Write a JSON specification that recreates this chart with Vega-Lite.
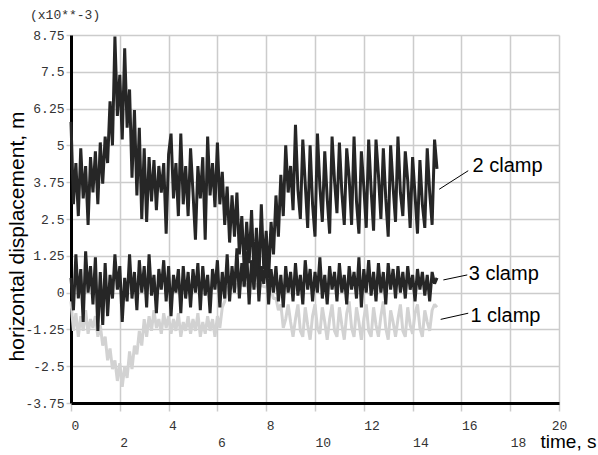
{
  "$schema": "https://vega.github.io/schema/vega-lite/v6.json",
  "width": 488,
  "height": 368,
  "autosize": {"type": "none"},
  "padding": {"left": 71, "top": 35, "right": 39, "bottom": 52},
  "background": "white",
  "config": {"view": {"stroke": null}},
  "title": {"text": "(x10**-3)", "anchor": "start", "frame": "group", "dx": -41, "dy": 11, "offset": 8, "font": "Liberation Mono", "fontSize": 13, "fontWeight": "normal", "color": "#333333", "baseline": "alphabetic"},
  "datasets": {
    "series": [
      {"t":0.0,"a":-0.3,"b":5.8,"c":0.5},{"t":0.1,"a":-1.3,"b":3.0,"c":-0.6},{"t":0.2,"a":-0.7,"b":4.4,"c":1.3},{"t":0.3,"a":-1.5,"b":2.6,"c":-0.2},{"t":0.4,"a":-0.8,"b":4.9,"c":0.8},
      {"t":0.5,"a":-1.3,"b":3.2,"c":-1.0},{"t":0.6,"a":-0.6,"b":4.3,"c":1.4},{"t":0.7,"a":-1.4,"b":2.3,"c":0.0},{"t":0.8,"a":-0.9,"b":4.6,"c":0.9},{"t":0.9,"a":-1.2,"b":3.4,"c":-0.4},
      {"t":1.0,"a":-0.8,"b":4.8,"c":1.2},{"t":1.1,"a":-1.5,"b":3.0,"c":-1.3},{"t":1.2,"a":-1.1,"b":5.1,"c":0.7},{"t":1.3,"a":-1.8,"b":3.7,"c":-1.1},{"t":1.4,"a":-1.5,"b":5.3,"c":1.0},
      {"t":1.5,"a":-2.3,"b":4.4,"c":-0.8},{"t":1.6,"a":-1.9,"b":6.5,"c":0.6},{"t":1.7,"a":-2.6,"b":5.0,"c":-0.2},{"t":1.8,"a":-2.3,"b":8.7,"c":1.3},{"t":1.9,"a":-3.0,"b":6.0,"c":0.1},
      {"t":2.0,"a":-2.4,"b":7.4,"c":0.9},{"t":2.1,"a":-3.2,"b":5.2,"c":-1.0},{"t":2.2,"a":-2.5,"b":8.3,"c":0.5},{"t":2.3,"a":-2.9,"b":5.6,"c":-0.3},{"t":2.4,"a":-2.0,"b":6.9,"c":1.3},
      {"t":2.5,"a":-2.6,"b":3.9,"c":-0.2},{"t":2.6,"a":-1.8,"b":6.2,"c":0.7},{"t":2.7,"a":-2.1,"b":3.3,"c":-0.6},{"t":2.8,"a":-1.3,"b":5.6,"c":1.1},{"t":2.9,"a":-1.8,"b":2.5,"c":0.0},
      {"t":3.0,"a":-0.9,"b":4.9,"c":0.9},{"t":3.1,"a":-1.5,"b":2.4,"c":-0.5},{"t":3.2,"a":-0.8,"b":4.6,"c":1.3},{"t":3.3,"a":-1.3,"b":3.1,"c":-0.1},{"t":3.4,"a":-0.6,"b":4.5,"c":0.6},
      {"t":3.5,"a":-1.2,"b":2.8,"c":-0.7},{"t":3.6,"a":-0.9,"b":4.3,"c":0.8},{"t":3.7,"a":-1.4,"b":3.4,"c":0.1},{"t":3.8,"a":-0.7,"b":4.4,"c":1.1},{"t":3.9,"a":-1.2,"b":2.0,"c":-0.3},
      {"t":4.0,"a":-0.8,"b":4.7,"c":0.9},{"t":4.1,"a":-1.4,"b":5.4,"c":-0.8},{"t":4.2,"a":-0.9,"b":3.2,"c":0.6},{"t":4.3,"a":-1.3,"b":4.4,"c":0.0},{"t":4.4,"a":-0.7,"b":2.6,"c":0.8},
      {"t":4.5,"a":-1.5,"b":5.4,"c":-0.7},{"t":4.6,"a":-1.0,"b":3.0,"c":0.9},{"t":4.7,"a":-1.3,"b":4.3,"c":-0.2},{"t":4.8,"a":-0.8,"b":2.6,"c":0.7},{"t":4.9,"a":-1.4,"b":4.9,"c":-0.5},
      {"t":5.0,"a":-0.9,"b":3.4,"c":0.8},{"t":5.1,"a":-1.3,"b":1.8,"c":0.0},{"t":5.2,"a":-0.7,"b":4.3,"c":1.0},{"t":5.3,"a":-1.5,"b":3.2,"c":-0.6},{"t":5.4,"a":-1.0,"b":4.6,"c":0.9},
      {"t":5.5,"a":-1.4,"b":1.8,"c":-0.1},{"t":5.6,"a":-0.8,"b":5.3,"c":0.6},{"t":5.7,"a":-1.3,"b":3.3,"c":-0.7},{"t":5.8,"a":-0.9,"b":4.4,"c":0.8},{"t":5.9,"a":-1.5,"b":2.9,"c":0.1},
      {"t":6.0,"a":-0.8,"b":5.1,"c":1.1},{"t":6.1,"a":-1.2,"b":3.0,"c":-0.5},{"t":6.2,"a":-0.5,"b":4.1,"c":0.7},{"t":6.3,"a":-0.3,"b":2.3,"c":-0.2},{"t":6.4,"a":0.2,"b":3.6,"c":1.3},
      {"t":6.5,"a":0.1,"b":1.7,"c":-0.3},{"t":6.6,"a":0.3,"b":3.3,"c":0.9},{"t":6.7,"a":0.1,"b":1.9,"c":0.0},{"t":6.8,"a":0.3,"b":3.4,"c":1.5},{"t":6.9,"a":0.2,"b":1.3,"c":-0.2},
      {"t":7.0,"a":0.3,"b":2.6,"c":1.0},{"t":7.1,"a":0.2,"b":0.8,"c":0.2},{"t":7.2,"a":0.3,"b":2.4,"c":1.4},{"t":7.3,"a":0.1,"b":1.0,"c":-0.4},{"t":7.4,"a":0.3,"b":2.8,"c":1.1},
      {"t":7.5,"a":0.2,"b":0.6,"c":0.1},{"t":7.6,"a":0.3,"b":2.2,"c":1.6},{"t":7.7,"a":0.1,"b":0.4,"c":-0.3},{"t":7.8,"a":0.3,"b":3.0,"c":0.9},{"t":7.9,"a":0.2,"b":0.8,"c":0.3},
      {"t":8.0,"a":0.2,"b":2.1,"c":1.3},{"t":8.1,"a":0.1,"b":0.5,"c":-0.4},{"t":8.2,"a":0.1,"b":2.4,"c":0.8},{"t":8.3,"a":-0.2,"b":1.3,"c":0.0},{"t":8.4,"a":-0.2,"b":3.3,"c":0.9},
      {"t":8.5,"a":-0.6,"b":1.9,"c":-0.3},{"t":8.6,"a":-0.4,"b":4.0,"c":0.6},{"t":8.7,"a":-1.2,"b":2.6,"c":-0.5},{"t":8.8,"a":-0.9,"b":5.0,"c":0.9},{"t":8.9,"a":-0.4,"b":3.4,"c":0.0},
      {"t":9.0,"a":-1.0,"b":4.3,"c":0.7},{"t":9.1,"a":-1.5,"b":2.8,"c":-0.3},{"t":9.2,"a":-0.9,"b":5.7,"c":1.0},{"t":9.3,"a":-0.4,"b":3.5,"c":-0.1},{"t":9.4,"a":-1.3,"b":2.5,"c":0.6},
      {"t":9.5,"a":-1.5,"b":5.2,"c":-0.4},{"t":9.6,"a":-0.5,"b":3.7,"c":1.1},{"t":9.7,"a":-1.1,"b":2.2,"c":0.1},{"t":9.8,"a":-1.6,"b":5.0,"c":0.8},{"t":9.9,"a":-0.8,"b":3.0,"c":-0.3},
      {"t":10.0,"a":-0.4,"b":1.9,"c":0.7},{"t":10.1,"a":-1.2,"b":5.4,"c":0.0},{"t":10.2,"a":-1.4,"b":3.6,"c":1.2},{"t":10.3,"a":-0.5,"b":2.4,"c":-0.2},{"t":10.4,"a":-1.0,"b":4.8,"c":0.6},
      {"t":10.5,"a":-1.6,"b":3.2,"c":-0.4},{"t":10.6,"a":-0.9,"b":2.0,"c":0.9},{"t":10.7,"a":-0.4,"b":5.3,"c":0.1},{"t":10.8,"a":-1.3,"b":3.8,"c":0.7},{"t":10.9,"a":-1.5,"b":2.7,"c":-0.3},
      {"t":11.0,"a":-0.5,"b":5.1,"c":1.0},{"t":11.1,"a":-1.1,"b":3.4,"c":0.0},{"t":11.2,"a":-1.6,"b":2.3,"c":0.6},{"t":11.3,"a":-0.7,"b":4.9,"c":-0.4},{"t":11.4,"a":-0.3,"b":3.9,"c":0.9},
      {"t":11.5,"a":-1.2,"b":2.3,"c":0.1},{"t":11.6,"a":-1.5,"b":5.3,"c":0.7},{"t":11.7,"a":-0.5,"b":3.1,"c":-0.2},{"t":11.8,"a":-1.0,"b":2.0,"c":1.2},{"t":11.9,"a":-1.6,"b":4.8,"c":-0.5},
      {"t":12.0,"a":-0.9,"b":3.6,"c":0.8},{"t":12.1,"a":-0.4,"b":2.2,"c":0.0},{"t":12.2,"a":-1.3,"b":5.2,"c":1.1},{"t":12.3,"a":-1.5,"b":3.5,"c":-0.1},{"t":12.4,"a":-0.5,"b":2.1,"c":0.7},
      {"t":12.5,"a":-1.1,"b":5.2,"c":-0.3},{"t":12.6,"a":-1.5,"b":4.0,"c":1.0},{"t":12.7,"a":-0.8,"b":2.5,"c":0.0},{"t":12.8,"a":-0.3,"b":4.9,"c":0.7},{"t":12.9,"a":-1.2,"b":3.2,"c":-0.4},
      {"t":13.0,"a":-1.6,"b":1.9,"c":1.0},{"t":13.1,"a":-0.6,"b":5.0,"c":0.1},{"t":13.2,"a":-1.0,"b":3.6,"c":0.8},{"t":13.3,"a":-1.5,"b":2.4,"c":-0.2},{"t":13.4,"a":-0.9,"b":5.3,"c":0.9},
      {"t":13.5,"a":-0.4,"b":3.4,"c":0.0},{"t":13.6,"a":-1.3,"b":2.6,"c":0.7},{"t":13.7,"a":-1.5,"b":4.8,"c":-0.2},{"t":13.8,"a":-0.5,"b":3.8,"c":0.9},{"t":13.9,"a":-1.1,"b":2.2,"c":0.1},
      {"t":14.0,"a":-1.4,"b":4.6,"c":0.6},{"t":14.1,"a":-0.7,"b":3.3,"c":-0.3},{"t":14.2,"a":-0.4,"b":2.0,"c":0.8},{"t":14.3,"a":-1.2,"b":4.5,"c":0.1},{"t":14.4,"a":-1.5,"b":3.0,"c":0.7},
      {"t":14.5,"a":-0.6,"b":2.2,"c":-0.1},{"t":14.6,"a":-1.0,"b":4.9,"c":0.6},{"t":14.7,"a":-1.3,"b":3.4,"c":-0.3},{"t":14.8,"a":-0.6,"b":2.3,"c":0.7},{"t":14.9,"a":-0.4,"b":5.2,"c":0.3},
      {"t":15.0,"a":-0.5,"b":4.2,"c":0.5}
    ],
    "notes": [
      {"label":"2 clamp","tx":16.46,"ty":4.3,"t":15.09,"v":3.51,"t2":16.28,"v2":4.14},
      {"label":"3 clamp","tx":16.3,"ty":0.63,"t":15.26,"v":0.43,"t2":16.24,"v2":0.6},
      {"label":"1 clamp","tx":16.37,"ty":-0.79,"t":15.15,"v":-0.91,"t2":16.28,"v2":-0.7}
    ]
  },
  "encoding": {
    "x": {
      "field": "t", "type": "quantitative", "title": "time, s",
      "scale": {"domain": [0, 20], "nice": false, "zero": false},
      "axis": {
        "values": [0, 2, 4, 6, 8, 10, 12, 14, 16, 18, 20],
        "grid": true, "gridColor": "#cccccc", "gridWidth": 1.5,
        "domainColor": "black", "domainWidth": 3,
        "tickColor": "#cccccc", "tickWidth": 1.5, "tickSize": 8,
        "labelFont": "Liberation Mono", "labelFontSize": 13, "labelColor": "#333333",
        "labelAlign": {"condition": {"test": "datum.value == 20", "value": "center"}, "value": "left"},
        "labelBaseline": "top", "labelPadding": 8, "labelLineHeight": 17,
        "labelFlush": false, "labelOverlap": false,
        "labelExpr": "datum.value % 4 == 2 ? ['', '' + datum.value] : '' + datum.value",
        "titleFont": "Liberation Sans", "titleFontSize": 19, "titleFontWeight": "normal", "titleColor": "black",
        "titleX": 469, "titleY": 44, "titleAlign": "left", "titleBaseline": "alphabetic"
      }
    },
    "y": {
      "field": "v", "type": "quantitative", "title": "horizontal displacement, m",
      "scale": {"domain": [-3.75, 8.75], "nice": false, "zero": false},
      "axis": {
        "values": [-3.75, -2.5, -1.25, 0, 1.25, 2.5, 3.75, 5, 6.25, 7.5, 8.75],
        "grid": true, "gridColor": "#cccccc", "gridWidth": 1.5,
        "domainColor": "black", "domainWidth": 3,
        "tickColor": "#cccccc", "tickWidth": 1.5, "tickSize": 5,
        "labelFont": "Liberation Mono", "labelFontSize": 13, "labelColor": "#333333",
        "labelPadding": 2, "labelOverlap": false, "labelFlush": false,
        "labelExpr": "'' + datum.value",
        "titleFont": "Liberation Sans", "titleFontSize": 21, "titleFontWeight": "normal", "titleColor": "black",
        "titleAngle": -90, "titleX": -47.5, "titleY": 201, "titleAlign": "center", "titleBaseline": "alphabetic"
      }
    }
  },
  "layer": [
    {
      "data": {"name": "series"},
      "transform": [{"fold": ["a", "b", "c"], "as": ["series", "v"]}, {"filter": "datum.series == 'a'"}],
      "mark": {"type": "line", "color": "#d2d2d2", "strokeWidth": 3, "strokeJoin": "bevel"}
    },
    {
      "data": {"name": "series"},
      "transform": [{"fold": ["a", "b", "c"], "as": ["series", "v"]}, {"filter": "datum.series == 'b'"}],
      "mark": {"type": "line", "color": "#262626", "strokeWidth": 3, "strokeJoin": "bevel"}
    },
    {
      "data": {"name": "series"},
      "transform": [{"fold": ["a", "b", "c"], "as": ["series", "v"]}, {"filter": "datum.series == 'c'"}],
      "mark": {"type": "line", "color": "#262626", "strokeWidth": 3, "strokeJoin": "bevel"}
    },
    {
      "data": {"name": "notes"},
      "mark": {"type": "rule", "color": "black", "strokeWidth": 1},
      "encoding": {
        "x2": {"field": "t2"},
        "y2": {"field": "v2"}
      }
    },
    {
      "data": {"name": "notes"},
      "mark": {"type": "text", "align": "left", "baseline": "middle", "font": "Liberation Sans", "fontSize": 20, "color": "black"},
      "encoding": {
        "x": {"field": "tx", "type": "quantitative", "title": "time, s"},
        "y": {"field": "ty", "type": "quantitative", "title": "horizontal displacement, m"},
        "text": {"field": "label"}
      }
    }
  ]
}
